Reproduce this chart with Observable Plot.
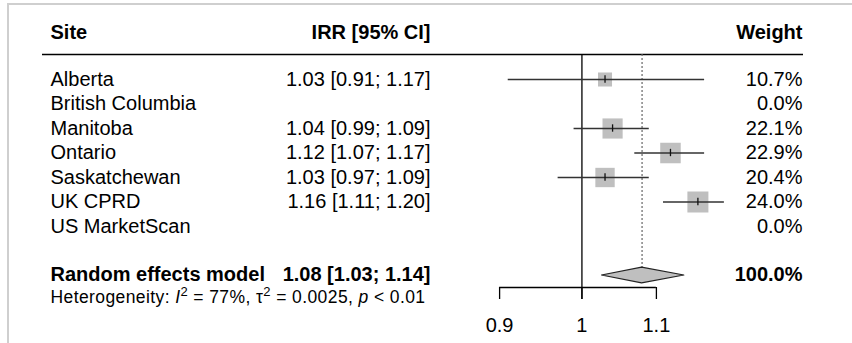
<!DOCTYPE html>
<html><head><meta charset="utf-8">
<script src="https://cdn.jsdelivr.net/npm/d3@7"></script>
<script src="https://cdn.jsdelivr.net/npm/@observablehq/plot@0.6"></script>
<style>
body{margin:0;background:#fff;}
#wrap{position:relative;width:852px;height:343px;overflow:hidden;background:#fff;}
#border{position:absolute;left:7px;top:3px;width:900px;height:400px;border-top:2px solid #cfcfcf;border-left:2px solid #cfcfcf;}
#chart{position:absolute;left:0;top:0;}
</style></head><body>
<div id="wrap"><div id="border"></div><div id="chart"></div></div>
<script>
// ---- data ----
const sites  = ["Alberta","British Columbia","Manitoba","Ontario","Saskatchewan","UK CPRD","US MarketScan"];
const irr    = [1.03, null, 1.04, 1.12, 1.03, 1.16, null];
const lower  = [0.91, null, 0.99, 1.07, 0.97, 1.11, null];
const upper  = [1.17, null, 1.09, 1.17, 1.09, 1.20, null];
const weight = [10.7, 0.0, 22.1, 22.9, 20.4, 24.0, 0.0];
const headers = ["Site", "IRR [95% CI]", "Weight"];
const modelLabel = "Random effects model";
const modelIrr = 1.08, modelLower = 1.026, modelUpper = 1.14, modelWeight = 100.0;
const hetI2 = 77, hetTau2 = "0.0025", hetP = "< 0.01";
const xTicks = [0.9, 1, 1.1];

// ---- derived ----
const f2 = d3.format(".2f"), f1 = d3.format(".1f");
const rows = sites.map((s, i) => ({site: s, row: i, irr: irr[i], lower: lower[i], upper: upper[i], weight: weight[i]}));
const est = rows.filter(d => d.irr != null);
const ciText = (e, l, u) => `${f2(e)} [${f2(l)}; ${f2(u)}]`;
const hetPlain = `Heterogeneity: I2 = ${hetI2}%, τ2 = ${hetTau2}, p ${hetP}`;

const H = 0.32; // diamond half-height (rows)
const diamond = [
  {x: modelLower, y1: 8, y2: 8},
  {x: modelIrr, y1: 8 - H, y2: 8 + H},
  {x: modelUpper, y1: 8, y2: 8}
];

const FS = 20;
const font = "Liberation Sans, Arial, Helvetica, sans-serif";
const left = {frameAnchor: "left", dx: 8, textAnchor: "start", fontSize: FS, fill: "black"};
const mid  = {frameAnchor: "left", dx: 388, textAnchor: "end", fontSize: FS, fill: "black"};
const right = {frameAnchor: "right", dx: -1, textAnchor: "end", fontSize: FS, fill: "black"};

const chart = Plot.plot({
  width: 852, height: 343,
  marginLeft: 42, marginRight: 49, marginTop: 0, marginBottom: 0,
  style: {fontFamily: font, background: "transparent", overflow: "visible"},
  x: {type: "log", domain: [0.9, 1.1], range: [499.1, 655.9], axis: null},
  y: {domain: [0, 6], range: [79, 226], axis: null},
  r: {type: "sqrt", domain: [0, 24], range: [0, 11.85]},
  marks: [
    // header
    Plot.text([headers[0]], {...left, y: -1.93, text: d => d, fontWeight: "bold"}),
    Plot.text([headers[1]], {...mid, y: -1.93, text: d => d, fontWeight: "bold"}),
    Plot.text([headers[2]], {...right, y: -1.93, text: d => d, fontWeight: "bold"}),
    Plot.ruleY([-1.02], {stroke: "black", strokeWidth: 1.3}),
    // study rows
    Plot.text(rows, {...left, y: "row", text: "site"}),
    Plot.text(est, {...mid, y: "row", text: d => ciText(d.irr, d.lower, d.upper)}),
    Plot.text(rows, {...right, y: "row", text: d => f1(d.weight) + "%"}),
    // reference lines
    Plot.ruleX([1], {y1: -1.02, y2: 8.98, stroke: "black", strokeWidth: 1.3}),
    Plot.ruleX([modelIrr], {y1: -1.02, y2: 8 - H, stroke: "#666", strokeWidth: 1.2, strokeDasharray: "2,2"}),
    // squares, CIs, point ticks
    Plot.dot(est.filter(d => d.weight > 0), {x: "irr", y: "row", r: "weight", symbol: "square", fill: "#bfbfbf", stroke: "none"}),
    Plot.ruleY(est, {y: "row", x1: "lower", x2: "upper", stroke: "#333", strokeWidth: 1.4}),
    Plot.ruleX(est, {x: "irr", y1: d => d.row - 0.15, y2: d => d.row + 0.15, stroke: "#111", strokeWidth: 1.3}),
    // random effects diamond
    Plot.areaY(diamond, {x: "x", y1: "y1", y2: "y2", fill: "#bfbfbf", stroke: "#222", strokeWidth: 1.2}),
    Plot.text([modelLabel], {...left, y: 7.96, text: d => d, fontWeight: "bold"}),
    Plot.text([ciText(modelIrr, modelLower, modelUpper)], {...mid, y: 7.96, text: d => d, fontWeight: "bold"}),
    Plot.text([f1(modelWeight) + "%"], {...right, y: 7.96, text: d => d, fontWeight: "bold"}),
    Plot.text([hetPlain], {...left, y: 8.88, text: d => d, fontSize: 17.5}),
    // x axis
    Plot.ruleY([8.49], {x1: xTicks[0], x2: xTicks[xTicks.length - 1], stroke: "black", strokeWidth: 1.3}),
    Plot.ruleX(xTicks, {y1: 8.49, y2: 8.98, stroke: "black", strokeWidth: 1.3}),
    Plot.text(xTicks, {x: d => d, y: 10.04, text: d => String(d), fontSize: FS, fill: "black"})
  ]
});

// rich formatting for heterogeneity statistics
d3.select(chart).selectAll("text").filter(function() { return this.textContent === hetPlain; }).each(function() {
  const t = d3.select(this);
  t.attr("letter-spacing", "0.4px");
  t.text(null);
  t.append("tspan").text("Heterogeneity: ");
  t.append("tspan").attr("font-style", "italic").text("I");
  t.append("tspan").attr("dy", -7).attr("font-size", 13).text("2");
  t.append("tspan").attr("dy", 7).text(` = ${hetI2}%, τ`);
  t.append("tspan").attr("dy", -7).attr("font-size", 13).text("2");
  t.append("tspan").attr("dy", 7).text(` = ${hetTau2}, `);
  t.append("tspan").attr("font-style", "italic").text("p");
  t.append("tspan").text(` ${hetP}`);
});

document.getElementById("chart").appendChild(chart);
</script>
</body></html>
